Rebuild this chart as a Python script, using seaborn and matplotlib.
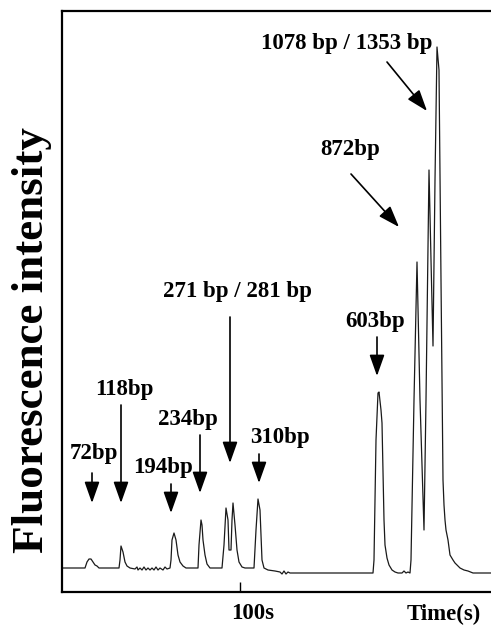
import matplotlib
matplotlib.use("Agg")
import matplotlib.pyplot as plt
import matplotlib.transforms as mtransforms
import seaborn as sns
import pandas as pd

# ---- data (time in s, fluorescence intensity in arbitrary units) ----
time = [55.5, 61.25, 61.75, 62.25, 62.75, 63.25, 63.75, 64.25, 64.75, 69.75, 70.0, 70.25,
        70.75, 71.25, 71.75, 72.5, 73.75, 74.25, 74.5, 75.0, 75.5, 76.0, 76.5, 77.0, 77.5,
        78.0, 78.5, 79.0, 79.5, 80.0, 80.75, 81.25, 81.75, 82.5, 82.75, 83.0, 83.5, 84.0,
        84.5, 85.0, 85.75, 86.5, 89.5, 89.75, 90.25, 90.5, 90.75, 91.25, 91.75, 92.5, 95.5,
        96.0, 96.5, 97.0, 97.25, 97.75, 98.0, 98.25, 98.75, 99.25, 99.75, 100.5, 101.25,
        103.5, 104.0, 104.5, 105.0, 105.25, 105.5, 106.0, 107.0, 108.75, 110.0, 110.5, 111.0,
        111.5, 112.0, 112.5, 133.25, 133.5, 134.0, 134.5, 134.75, 135.25, 135.5, 136.0,
        136.25, 136.75, 137.25, 138.0, 138.75, 139.5, 140.5, 141.0, 141.5, 142.0, 142.5,
        142.75, 143.5, 144.25, 145.0, 146.0, 146.5, 147.25, 147.75, 148.25, 148.75, 149.25,
        149.75, 150.25, 150.75, 151.0, 151.25, 151.5, 152.0, 152.5, 153.25, 153.75, 154.5,
        155.0, 156.0, 157.0, 158.25, 162.75]
intensity = [5, 5, 11, 14, 14, 11, 8, 7, 5, 5, 13, 27,
             21, 11, 7, 5, 4, 6, 3, 5, 3, 6, 3, 5, 3,
             5, 3, 6, 3, 5, 3, 6, 4, 5, 13, 33, 40, 33,
             18, 11, 7, 5, 5, 28, 53, 48, 33, 18, 9, 5, 5,
             28, 65, 53, 23, 23, 53, 70, 48, 23, 11, 6, 5,
             5, 43, 74, 63, 38, 13, 5, 3, 2, 1, -1, 2,
             -1, 1, 0, 0, 13, 133, 180, 181, 163, 150, 53,
             28, 15, 8, 3, 1, 0, 0, 2, 0, 1, 0,
             13, 173, 311, 173, 43, 173, 403, 313, 227, 393, 526,
             503, 293, 93, 68, 53, 43, 33, 18, 13, 10, 7,
             5, 3, 2, 0, 0]

# peak labels: text, text position (t, I), arrow tail (t, I), arrow tip (t, I)
labels = ["72bp", "118bp", "194bp", "234bp", "271 bp / 281 bp", "310bp",
          "603bp", "872bp", "1078 bp / 1353 bp"]
label_t = [63.5, 71.0, 80.75, 87.0, 99.25, 110.0, 133.75, 127.5, 126.75]
label_i = [120, 184, 106, 154, 281, 135, 252, 423, 529]
tail_t = [63.0, 70.25, 82.75, 90.0, 97.5, 104.75, 134.25, 127.75, 136.75]
tail_i = [100, 168, 89, 138, 256, 119, 236, 399, 511]
tip_t = [63.0, 70.25, 82.75, 90.0, 97.5, 104.75, 134.25, 139.75, 146.75]
tip_i = [70, 70, 60, 80, 110, 90, 197, 346, 462]

tick_pos = [100]
tick_labels = ["100s"]

df = pd.DataFrame({"time": time, "intensity": intensity})

sns.set_style("white")
plt.rcParams["font.family"] = ["Liberation Serif", "DejaVu Serif"]
plt.rcParams["text.color"] = "black"
plt.rcParams["xtick.color"] = "black"

fig = plt.figure(figsize=(4.91, 6.26), dpi=100)
ax = fig.add_axes([62 / 491, 34 / 626, 429 / 491, 581 / 626])

sns.lineplot(data=df, x="time", y="intensity", sort=False, estimator=None,
             color="#1a1a1a", linewidth=0.9, ax=ax)

ax.set_xlim(55.5, 162.75)
ax.set_ylim(-19, 562)

for txt, lt, li, at, ai, pt, pi in zip(labels, label_t, label_i, tail_t, tail_i, tip_t, tip_i):
    ax.text(lt, li, txt, ha="center", va="center", fontsize=16.5, fontweight="bold",
            color="black")
    ax.annotate("", xy=(pt, pi), xytext=(at, ai),
                arrowprops=dict(arrowstyle="-|>,head_length=0.65,head_width=0.23",
                                mutation_scale=20, lw=1.2, color="black",
                                shrinkA=0, shrinkB=0))

for side in ["left", "top", "bottom"]:
    ax.spines[side].set_linewidth(1.6)
    ax.spines[side].set_color("black")
ax.spines["right"].set_visible(False)

ax.set_yticks([])
ax.set_xticks(tick_pos)
ax.set_xticklabels(tick_labels, fontsize=16.5, fontweight="bold", color="black")
ax.tick_params(axis="x", direction="in", length=7, width=1, color="black", pad=8,
               bottom=True, labelcolor="black")
offset = mtransforms.ScaledTranslation(13 / 100, 0, fig.dpi_scale_trans)
for lab in ax.get_xticklabels():
    lab.set_transform(lab.get_transform() + offset)

ax.set_xlabel("")
ax.set_ylabel("")
fig.text(32 / 491, 1 - 340 / 626, "Fluorescence intensity", rotation=90,
         ha="center", va="center", fontsize=32.5, fontweight="bold", color="black")
fig.text(444 / 491, 1 - 614 / 626, "Time(s)", ha="center", va="center",
         fontsize=16.5, fontweight="bold", color="black")

fig.savefig("out.png", dpi=100)
